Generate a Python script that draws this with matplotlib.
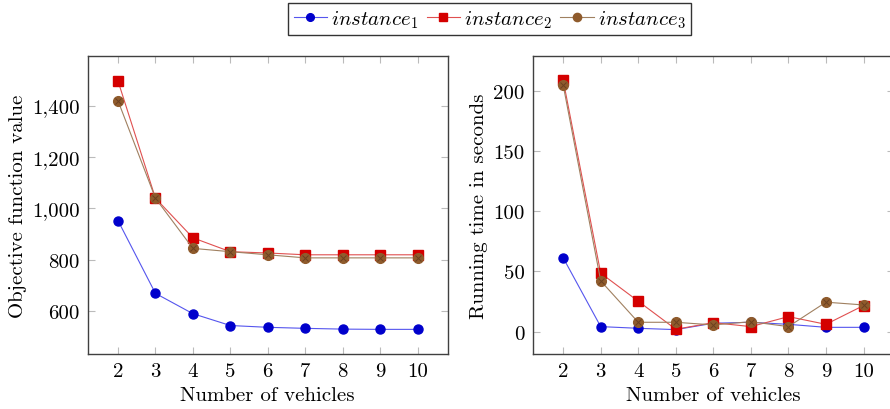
import matplotlib
matplotlib.use("Agg")
import matplotlib.pyplot as plt
from matplotlib.ticker import FuncFormatter, MultipleLocator

plt.rcParams['font.family'] = ['cmr10', 'DejaVu Serif']
plt.rcParams['mathtext.fontset'] = 'cm'
plt.rcParams['axes.unicode_minus'] = False
plt.rcParams['font.size'] = 15

vehicles = [2, 3, 4, 5, 6, 7, 8, 9, 10]

# objective function value
obj_inst1 = [953, 670, 591, 545, 538, 534, 531, 530, 530]
obj_inst2 = [1496, 1040, 886, 832, 827, 820, 820, 820, 820]
obj_inst3 = [1419, 1040, 845, 832, 820, 808, 808, 808, 808]

# running time in seconds
time_inst1 = [61.4, 4.2, 2.8, 1.7, 7.0, 7.8, 6.1, 3.6, 3.6]
time_inst2 = [209, 48.6, 25.3, 2.0, 7.5, 4.2, 12.5, 6.1, 21.7]
time_inst3 = [205, 42.2, 7.8, 7.8, 5.6, 8.3, 4.2, 24.5, 22.2]

labels = ['$instance_1$', '$instance_2$', '$instance_3$']
blue = '#0000cc'
red = '#d40000'
brown = '#8f5b2c'
blue_line = '#5555ee'
red_line = '#e05050'
brown_line = '#a08060'


def style_axes(ax):
    for sp in ax.spines.values():
        sp.set_color('#404040')
        sp.set_linewidth(1.0)
    ax.tick_params(direction='in', length=5, width=0.8, color='#bbbbbb',
                   top=True, right=True, labelsize=15, pad=6)
    ax.set_xlim(1.2, 10.8)
    ax.xaxis.set_major_locator(MultipleLocator(1))
    ax.set_xlabel('Number of vehicles', fontsize=15)


def draw(ax, s1, s2, s3):
    ax.plot(vehicles, s1, color=blue_line, lw=0.8, marker='o', ms=6.5,
            mfc=blue, mec=blue, label=labels[0])
    ax.plot(vehicles, s2, color=red_line, lw=0.8, marker='s', ms=6.5,
            mfc=red, mec=red, label=labels[1])
    ax.plot(vehicles, s3, color=brown_line, lw=0.8, marker='o', ms=7,
            mfc=brown, mec=brown, label=labels[2])
    ax.plot(vehicles, s3, ls='none', marker='x', ms=4.5, mew=0.7,
            color='#6b4020')


fig = plt.figure(figsize=(8.9, 4.1), dpi=100)
ax1 = fig.add_axes([0.0989, 0.134, 0.404, 0.727])
ax2 = fig.add_axes([0.599, 0.134, 0.405, 0.727])

draw(ax1, obj_inst1, obj_inst2, obj_inst3)
style_axes(ax1)
ax1.set_ylim(434, 1593)
ax1.set_yticks([600, 800, 1000, 1200, 1400])
ax1.yaxis.set_major_formatter(FuncFormatter(lambda v, p: f'{int(v):,}'))
ax1.set_ylabel('Objective function value', fontsize=15)

draw(ax2, time_inst1, time_inst2, time_inst3)
style_axes(ax2)
ax2.set_ylim(-18.6, 229)
ax2.set_yticks([0, 50, 100, 150, 200])
ax2.set_ylabel('Running time in seconds', fontsize=15)

handles, _ = ax1.get_legend_handles_labels()
leg = fig.legend(handles[:3], labels, loc='center', bbox_to_anchor=(0.55, 0.951),
                 ncol=3, fontsize=15, frameon=True, fancybox=False,
                 handlelength=1.6, handletextpad=0.2, columnspacing=0.4,
                 borderpad=0.25, markerscale=0.85)
leg.get_frame().set_edgecolor('black')
leg.get_frame().set_linewidth(1.0)

fig.savefig('out.png', dpi=100)
